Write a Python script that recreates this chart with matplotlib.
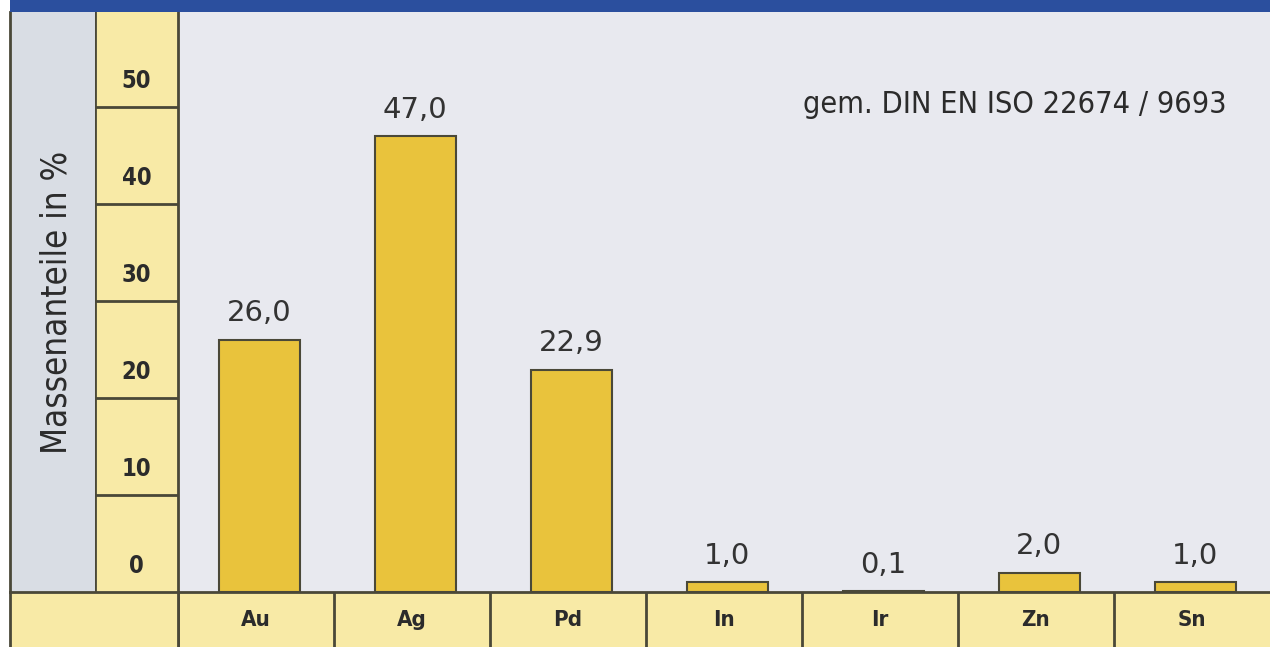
import matplotlib.pyplot as plt
from matplotlib.patches import Rectangle

# Data
elements = ['Au', 'Ag', 'Pd', 'In', 'Ir', 'Zn', 'Sn']
mass_pct = [26.0, 47.0, 22.9, 1.0, 0.1, 2.0, 1.0]
tick_values = [0, 10, 20, 30, 40, 50]
y_label = 'Massenanteile in %'
note = 'gem. DIN EN ISO 22674 / 9693'

W, H = 1270, 647
blue = '#2b4f9e'
yellow = '#f8eaa6'
bar_yellow = '#e9c33c'
plot_bg = '#e8e9ef'
side_gray = '#d9dde4'
edge = '#4a4838'
txt = '#2b2b2b'
cond = dict(family='DejaVu Sans', stretch='condensed')


def box(x0, y0, x1, y1):
    # pixel box (top-left origin) -> figure fraction rect
    return [x0 / W, 1 - y1 / H, (x1 - x0) / W, (y1 - y0) / H]


fig = plt.figure(figsize=(W / 100, H / 100), dpi=100)
fig.patch.set_facecolor('white')

# top blue band
fig.patches.append(Rectangle((10 / W, 1 - 12 / H), 1, 12 / H, transform=fig.transFigure,
                             facecolor=blue, edgecolor='none'))

ymax = 59.8

# main plot area
ax = fig.add_axes(box(178, 12, 1270, 592))
ax.set_facecolor(plot_bg)
x = list(range(len(elements)))
ax.bar([xi + 0.02 for xi in x], mass_pct, width=0.52, color=bar_yellow, edgecolor=edge, linewidth=1.5)
for xi, v in zip(x, mass_pct):
    ax.annotate(f'{v:.1f}'.replace('.', ','), (xi + 0.02, v), xytext=(0, 9), textcoords='offset points',
                ha='center', va='bottom', fontsize=21, color='#333333')
ax.text(0.96, 0.84, note, transform=ax.transAxes, ha='right', va='center',
        fontsize=22, color=txt, **cond)
ax.set_xlim(-0.5, len(elements) - 0.5)
ax.set_ylim(0, ymax)
ax.set_xticks([])
ax.set_yticks([])
for s in ax.spines.values():
    s.set_visible(False)

# tick column
axt = fig.add_axes(box(95, 12, 178, 592))
axt.set_facecolor(yellow)
axt.set_ylim(0, ymax)
axt.set_xlim(0, 1)
for t in tick_values:
    axt.text(0.5, t + 2.7, str(t), ha='center', va='center', fontsize=17, fontweight='bold',
             color=txt, **cond)
    if t > 0:
        axt.axhline(t, color=edge, linewidth=2)
axt.set_xticks([])
axt.set_yticks([])
for s in axt.spines.values():
    s.set_visible(False)
for k in ['left', 'right']:
    axt.spines[k].set_visible(True)
    axt.spines[k].set_color(edge)
    axt.spines[k].set_linewidth(2)

# gray label panel
axg = fig.add_axes(box(10, 12, 95, 592))
axg.set_facecolor(side_gray)
axg.text(0.55, 0.5, y_label, transform=axg.transAxes, rotation=90, ha='center', va='center',
         fontsize=25, color=txt, **cond)
axg.set_xticks([])
axg.set_yticks([])
for s in axg.spines.values():
    s.set_visible(False)
axg.spines['left'].set_visible(True)
axg.spines['left'].set_color(edge)
axg.spines['left'].set_linewidth(2)

# bottom category row
axb = fig.add_axes(box(178, 592, 1270, 647))
axb.set_facecolor(yellow)
axb.set_xlim(-0.5, len(elements) - 0.5)
axb.set_ylim(0, 1)
for xi, name in zip(x, elements):
    axb.text(xi, 0.5, name, ha='center', va='center', fontsize=16, fontweight='bold',
             color=txt, **cond)
    axb.axvline(xi - 0.5, color=edge, linewidth=2)
axb.set_xticks([])
axb.set_yticks([])
for s in axb.spines.values():
    s.set_visible(False)
axb.spines['top'].set_visible(True)
axb.spines['top'].set_color(edge)
axb.spines['top'].set_linewidth(2)

# bottom-left yellow cell
axc = fig.add_axes(box(10, 592, 178, 647))
axc.set_facecolor(yellow)
axc.set_xticks([])
axc.set_yticks([])
for s in axc.spines.values():
    s.set_visible(False)
for k in ['top', 'left', 'right']:
    axc.spines[k].set_visible(True)
    axc.spines[k].set_color(edge)
    axc.spines[k].set_linewidth(2)

fig.savefig('out.png', dpi=100)
